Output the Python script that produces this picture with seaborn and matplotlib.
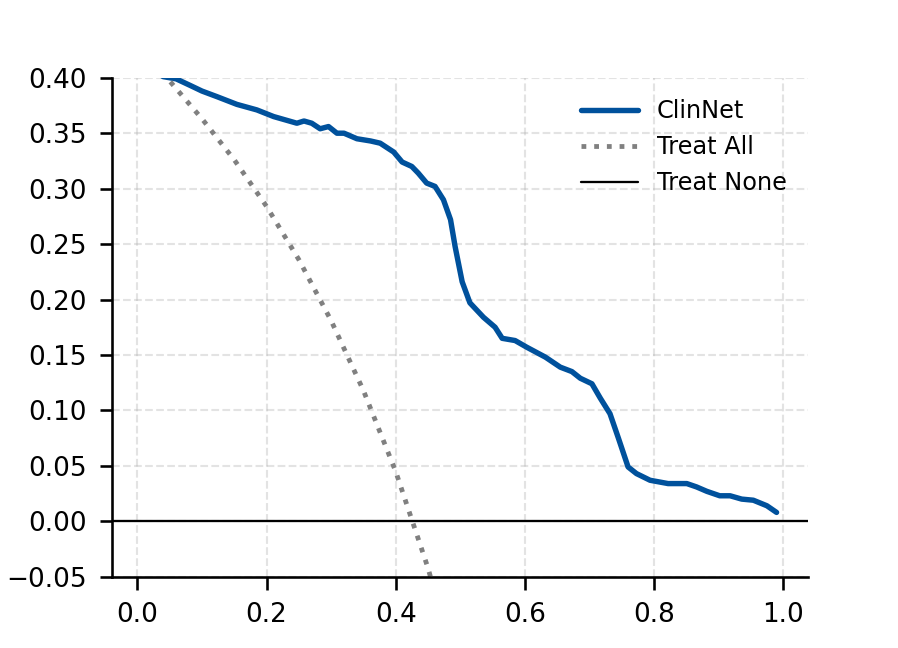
import pandas as pd
import matplotlib
matplotlib.use("Agg")
import matplotlib.pyplot as plt
import seaborn as sns

# Limiares (threshold probability) e benefício líquido
clinnet_thresholds = [
    0.01, 0.04, 0.06, 0.082, 0.10, 0.123, 0.154, 0.185, 0.211, 0.247,
    0.258, 0.270, 0.283, 0.296, 0.309, 0.320, 0.340, 0.361, 0.376, 0.397,
    0.410, 0.425, 0.435, 0.448, 0.461, 0.474, 0.485, 0.492, 0.503, 0.515,
    0.536, 0.554, 0.565, 0.585, 0.603, 0.632, 0.655, 0.673, 0.686, 0.704,
    0.717, 0.732, 0.745, 0.760, 0.773, 0.794, 0.822, 0.851, 0.866, 0.882,
    0.902, 0.918, 0.936, 0.954, 0.975, 0.990,
]
clinnet_benefit = [
    0.412, 0.401, 0.399, 0.393, 0.388, 0.383, 0.376, 0.371, 0.365, 0.359,
    0.361, 0.359, 0.354, 0.356, 0.350, 0.350, 0.345, 0.343, 0.341, 0.333,
    0.324, 0.320, 0.314, 0.305, 0.302, 0.290, 0.272, 0.248, 0.216, 0.197,
    0.184, 0.175, 0.165, 0.163, 0.157, 0.148, 0.139, 0.135, 0.129, 0.124,
    0.111, 0.097, 0.075, 0.049, 0.043, 0.037, 0.034, 0.034, 0.031, 0.027,
    0.023, 0.023, 0.020, 0.019, 0.014, 0.008,
]

treat_all_thresholds = [0.01, 0.05, 0.10, 0.15, 0.20, 0.25, 0.30, 0.35, 0.40, 0.45, 0.50]
treat_all_benefit = [0.421, 0.397, 0.363, 0.326, 0.284, 0.236, 0.181, 0.118, 0.045, -0.042, -0.146]

x_ticks = [0.0, 0.2, 0.4, 0.6, 0.8, 1.0]
y_ticks = [-0.05, 0.00, 0.05, 0.10, 0.15, 0.20, 0.25, 0.30, 0.35, 0.40]


def main() -> None:
    sns.set_theme(context="notebook", style="ticks")
    plt.rcParams.update({
        "font.family": ["DejaVu Sans"],
        "font.sans-serif": ["DejaVu Sans"],
        "text.color": "black",
        "axes.edgecolor": "black",
        "axes.linewidth": 1.25,
        "xtick.color": "black",
        "ytick.color": "black",
        "xtick.major.width": 1.25,
        "ytick.major.width": 1.25,
        "xtick.major.size": 6,
        "ytick.major.size": 6,
        "xtick.labelsize": 12.6,
        "ytick.labelsize": 12.6,
        "legend.fontsize": 11.5,
        "xtick.major.pad": 6,
        "ytick.major.pad": 6,
    })

    fig, ax = plt.subplots(figsize=(898 / 150, 648 / 150), dpi=150)

    df_model = pd.DataFrame({"threshold": clinnet_thresholds, "net_benefit": clinnet_benefit})
    df_all = pd.DataFrame({"threshold": treat_all_thresholds, "net_benefit": treat_all_benefit})

    sns.lineplot(data=df_model, x="threshold", y="net_benefit", ax=ax,
                 color="#00519c", linewidth=2.6, label="ClinNet", sort=False)
    sns.lineplot(data=df_all, x="threshold", y="net_benefit", ax=ax,
                 color="gray", linewidth=2.3, linestyle=":", label="Treat All", sort=False)
    ax.axhline(0, color="black", linewidth=1.1, label="Treat None")

    ax.set_xlim(-0.039, 1.039)
    ax.set_ylim(-0.05, 0.40)
    ax.set_xticks(x_ticks)
    ax.set_yticks(y_ticks)
    ax.set_yticklabels([f"{v:.2f}".replace("-", "\u2212") for v in y_ticks])
    ax.set_xlabel("")
    ax.set_ylabel("")
    ax.grid(True, linestyle="--", color="#b0b0b0", alpha=0.35, linewidth=1.0)
    sns.despine(ax=ax)
    ax.legend(loc="upper right", frameon=False, handlelength=2.35)

    fig.subplots_adjust(left=0.125, right=0.9, top=0.88, bottom=0.11)
    fig.savefig("out.png", dpi=150)
    plt.close(fig)


if __name__ == "__main__":
    main()
